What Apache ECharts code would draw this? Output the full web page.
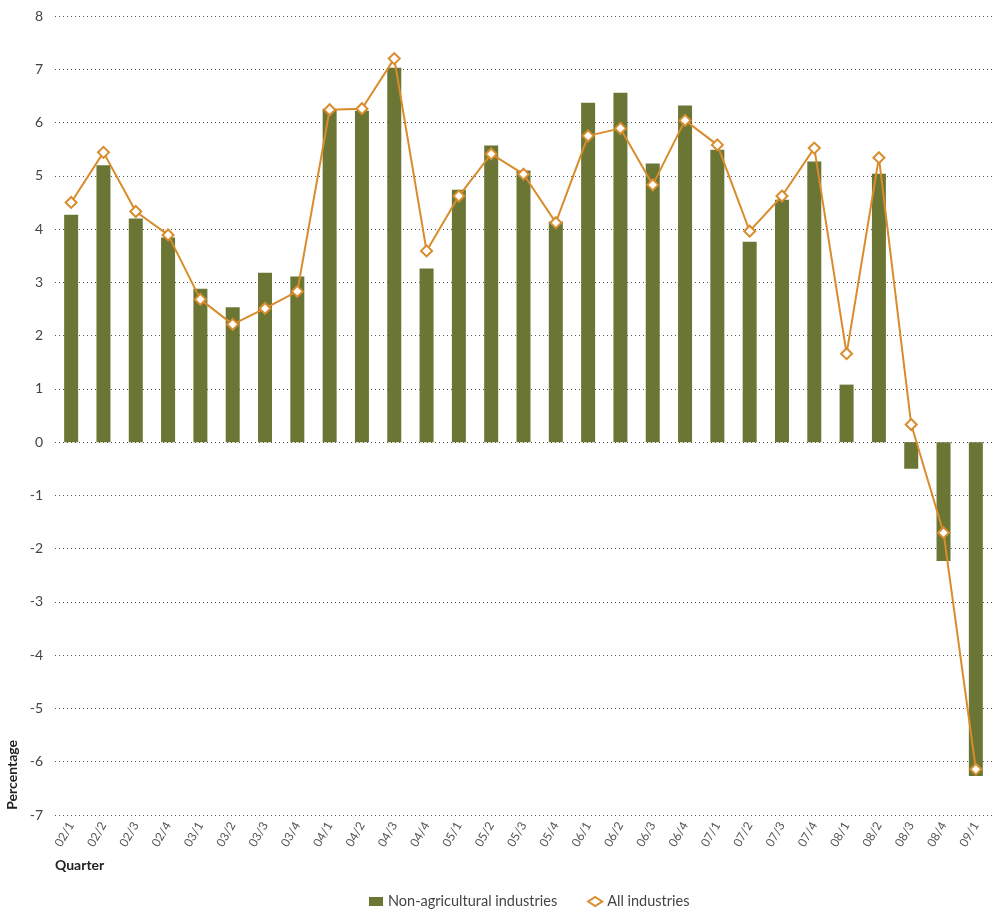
<!DOCTYPE html>
<html>
<head>
<meta charset="utf-8">
<script src="https://cdn.jsdelivr.net/npm/echarts@6/dist/echarts.min.js"></script>
<style>
  html, body { margin: 0; padding: 0; background: #fff; }
  #chart { width: 992px; height: 910px; }
</style>
</head>
<body>
<div id="chart"></div>
<script>
// quarters
var quarters = ['02/1','02/2','02/3','02/4','03/1','03/2','03/3','03/4',
  '04/1','04/2','04/3','04/4','05/1','05/2','05/3','05/4',
  '06/1','06/2','06/3','06/4','07/1','07/2','07/3','07/4',
  '08/1','08/2','08/3','08/4','09/1'];
// bars
var nonAgri = [4.27, 5.20, 4.20, 3.84, 2.88, 2.53, 3.18, 3.11,
  6.26, 6.22, 7.03, 3.26, 4.74, 5.57, 5.10, 4.14,
  6.37, 6.56, 5.23, 6.32, 5.49, 3.76, 4.55, 5.27,
  1.08, 5.04, -0.50, -2.23, -6.27];
// line
var allInd = [4.50, 5.44, 4.33, 3.89, 2.68, 2.21, 2.51, 2.83,
  6.24, 6.26, 7.20, 3.59, 4.62, 5.41, 5.03, 4.12,
  5.75, 5.89, 4.83, 6.04, 5.58, 3.96, 4.62, 5.52,
  1.66, 5.34, 0.33, -1.70, -6.14];

var textFont = 'Lato';
var chart = echarts.init(document.getElementById('chart'));
var option = {
    animation: false,
    textStyle: { fontFamily: textFont },
    grid: {
        top: 16,
        left: 55,
        right: -4,
        bottom: 95
    },
    legend: {
        top: 889,
        left: 364,
        itemGap: 30,
        itemWidth: 14,
        itemHeight: 9,
        textStyle: { color: '#444', fontSize: 14.5, fontFamily: textFont },
        data: [
            { name: 'Non-agricultural industries', icon: 'rect' },
            { name: 'All industries', icon: 'diamond', itemStyle: { color: '#fff', borderColor: '#d98c2b', borderWidth: 2 } }
        ]
    },
    xAxis: {
        type: 'category',
        data: quarters,
        axisLine: { show: false },
        axisTick: { show: false },
        axisLabel: {
            rotate: 60,
            margin: 8,
            color: '#555',
            fontSize: 12,
            interval: 0
        }
    },
    yAxis: {
        type: 'value',
        min: -7,
        max: 8,
        interval: 1,
        axisLine: { show: false },
        axisTick: { show: false },
        axisLabel: { color: '#444', fontSize: 14, margin: 12 },
        splitLine: {
            lineStyle: { color: '#555', type: [1, 3], width: 1 }
        }
    },
    graphic: [
        {
            type: 'text',
            left: 5,
            top: 740,
            rotation: Math.PI / 2,
            style: { text: 'Percentage', fill: '#222', font: 'bold 14px ' + textFont }
        },
        {
            type: 'text',
            left: 55,
            top: 858,
            style: { text: 'Quarter', fill: '#222', font: 'bold 14px ' + textFont }
        }
    ],
    series: [
        {
            name: 'Non-agricultural industries',
            type: 'bar',
            data: nonAgri,
            barWidth: 14,
            itemStyle: { color: '#6b7635' }
        },
        {
            name: 'All industries',
            type: 'line',
            data: allInd,
            symbol: 'diamond',
            symbolSize: 11,
            lineStyle: { color: '#d98c2b', width: 2 },
            itemStyle: { color: '#fff', borderColor: '#d98c2b', borderWidth: 2 }
        }
    ]
};
chart.setOption(option, true);
window.addEventListener('resize', function () {
    chart.resize();
});
</script>
</body>
</html>
